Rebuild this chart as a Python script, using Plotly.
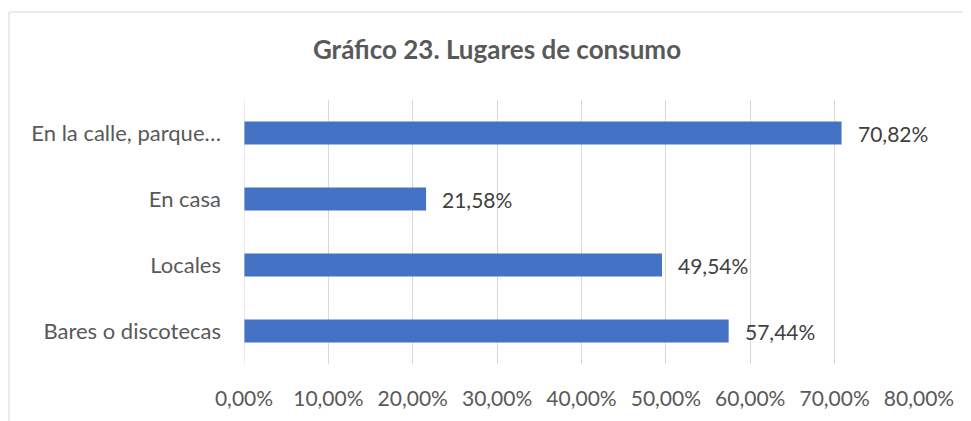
import plotly.graph_objects as go

categories = ["Bares o discotecas", "Locales", "En casa", "En la calle, parque…"]
values = [0.5744, 0.4954, 0.2158, 0.7082]
value_labels = ["57,44%", "49,54%", "21,58%", "70,82%"]
x_ticks = [0, 0.1, 0.2, 0.3, 0.4, 0.5, 0.6, 0.7, 0.8]

FONT = "Lato"
OFF = 8  # default page body margin
W, H = 971 - OFF, 421 - OFF
L, R, T, B = 244 - OFF, 52, 100 - OFF, 57
pw, ph = W - L - R, H - T - B

fig = go.Figure(go.Bar(
    x=values, y=categories, orientation="h",
    marker=dict(color="#4472C4", line=dict(width=0)),
    width=0.35, hoverinfo="skip",
))

for v, c, t in zip(values, categories, value_labels):
    fig.add_annotation(x=v, y=c, text=t, showarrow=False, xanchor="left",
                       xshift=14, font=dict(family=FONT, size=21, color="#404040"))

def px_x(p):
    return (p - OFF - L) / pw

def px_y(p):
    return (H - B - (p - OFF)) / ph

fig.add_shape(type="rect", xref="paper", yref="paper",
              x0=px_x(9), x1=px_x(990), y0=px_y(440), y1=px_y(12),
              line=dict(color="#d9d9d9", width=1), fillcolor="rgba(0,0,0,0)", layer="below")

fig.update_layout(
    width=W, height=H,
    margin=dict(l=L, r=R, t=T, b=B, pad=0),
    paper_bgcolor="white", plot_bgcolor="white",
    separators=",.",
    showlegend=False,
    title=dict(text="<b>Gráfico 23. Lugares de consumo</b>", x=(497 - OFF) / W, xanchor="center",
               y=1 - (50 - OFF) / H, yanchor="middle",
               font=dict(family=FONT, size=26, color="#595959")),
    xaxis=dict(range=[0, 0.8], tickvals=x_ticks, tickformat=".2%",
               showgrid=True, gridcolor="#d9d9d9", gridwidth=1,
               zeroline=False, showline=False, ticks="",
               ticklabelstandoff=20,
               tickfont=dict(family=FONT, size=21, color="#595959"), fixedrange=True),
    yaxis=dict(categoryorder="array", categoryarray=categories,
               range=[-0.5, 3.5], showgrid=False, zeroline=False,
               showline=False, ticks="", ticklabelstandoff=22,
               tickfont=dict(family=FONT, size=22, color="#595959"), fixedrange=True),
)
fig.add_shape(type="line", xref="x", yref="paper", x0=0, x1=0, y0=0, y1=1,
              line=dict(color="#d9d9d9", width=1))

fig.write_html("out.html")
